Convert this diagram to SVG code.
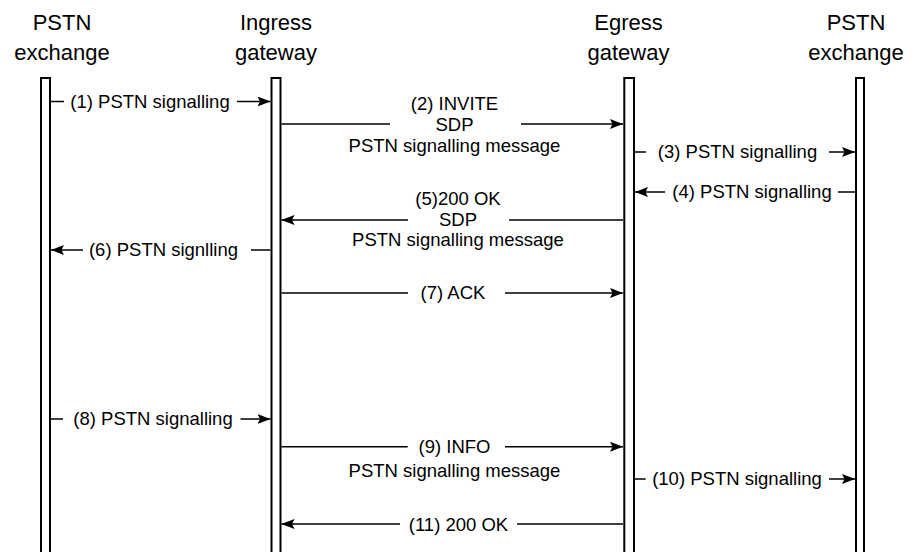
<svg xmlns="http://www.w3.org/2000/svg" width="917" height="552" viewBox="0 0 917 552">
<style>
.hdr{font-family:"Liberation Sans",Arial,sans-serif;font-size:22px;fill:#000;text-anchor:middle}
.lbl{font-family:"Liberation Sans",Arial,sans-serif;font-size:18.5px;fill:#000;text-anchor:middle}
.bar{fill:#fff;stroke:#000;stroke-width:2}
.msg{stroke:#000;stroke-width:1.5;fill:none}
</style>
<defs>
<marker id="ah" viewBox="0 0 13 10" refX="13" refY="5" markerWidth="13" markerHeight="10" markerUnits="userSpaceOnUse" orient="auto">
<path d="M0,0 L13,5 L0,10 L2.5,5 z" fill="#000"/>
</marker>
</defs>
<rect width="917" height="552" fill="#fff"/>
<g id="pstn-left">
<text class="hdr" x="62" y="30">PSTN</text>
<text class="hdr" x="62" y="59.5">exchange</text>
<path class="bar" d="M41,553 V78 H50 V553"/>
</g>
<g id="ingress">
<text class="hdr" x="276" y="30">Ingress</text>
<text class="hdr" x="276" y="59.5">gateway</text>
<path class="bar" d="M271.5,553 V78 H280.5 V553"/>
</g>
<g id="egress">
<text class="hdr" x="628.5" y="30">Egress</text>
<text class="hdr" x="628.5" y="59.5">gateway</text>
<path class="bar" d="M624.3,553 V78 H634 V553"/>
</g>
<g id="pstn-right">
<text class="hdr" x="856" y="30">PSTN</text>
<text class="hdr" x="856" y="59.5">exchange</text>
<path class="bar" d="M856,553 V78 H864 V553"/>
</g>
<g id="connectors">
<!-- (1) -->
<line class="msg" x1="51" y1="101.5" x2="64" y2="101.5"/>
<line class="msg" x1="237" y1="101.5" x2="270.5" y2="101.5" marker-end="url(#ah)"/>
<text class="lbl" x="150" y="107.5">(1) PSTN signalling</text>
<!-- (2) -->
<line class="msg" x1="281.5" y1="124" x2="390" y2="124"/>
<line class="msg" x1="521" y1="124" x2="623" y2="124" marker-end="url(#ah)"/>
<text class="lbl" x="454.5" y="110">(2) INVITE</text>
<text class="lbl" x="454.5" y="130.5">SDP</text>
<text class="lbl" x="454.5" y="151.5">PSTN signalling message</text>
<!-- (3) -->
<line class="msg" x1="635" y1="152" x2="646" y2="152"/>
<line class="msg" x1="829" y1="152" x2="855" y2="152" marker-end="url(#ah)"/>
<text class="lbl" x="737.5" y="158">(3) PSTN signalling</text>
<!-- (4) -->
<line class="msg" x1="665" y1="192" x2="635" y2="192" marker-end="url(#ah)"/>
<line class="msg" x1="838" y1="192" x2="855" y2="192"/>
<text class="lbl" x="752" y="198">(4) PSTN signalling</text>
<!-- (5) -->
<line class="msg" x1="408" y1="220" x2="281.5" y2="220" marker-end="url(#ah)"/>
<line class="msg" x1="509" y1="220" x2="623" y2="220"/>
<text class="lbl" x="458" y="205">(5)200 OK</text>
<text class="lbl" x="458" y="225.7">SDP</text>
<text class="lbl" x="458" y="245.7">PSTN signalling message</text>
<!-- (6) -->
<line class="msg" x1="83" y1="250" x2="51" y2="250" marker-end="url(#ah)"/>
<line class="msg" x1="251" y1="250" x2="270.5" y2="250"/>
<text class="lbl" x="163.5" y="256">(6) PSTN signlling</text>
<!-- (7) -->
<line class="msg" x1="281.5" y1="293" x2="408" y2="293"/>
<line class="msg" x1="505" y1="293" x2="623" y2="293" marker-end="url(#ah)"/>
<text class="lbl" x="453" y="299">(7) ACK</text>
<!-- (8) -->
<line class="msg" x1="51" y1="419" x2="63" y2="419"/>
<line class="msg" x1="240.5" y1="419" x2="270.5" y2="419" marker-end="url(#ah)"/>
<text class="lbl" x="153" y="425">(8) PSTN signalling</text>
<!-- (9) -->
<line class="msg" x1="281.5" y1="446.7" x2="407.7" y2="446.7"/>
<line class="msg" x1="505" y1="446.7" x2="623" y2="446.7" marker-end="url(#ah)"/>
<text class="lbl" x="454.5" y="452.7">(9) INFO</text>
<text class="lbl" x="454.5" y="476.7">PSTN signalling message</text>
<!-- (10) -->
<line class="msg" x1="635" y1="479" x2="645.7" y2="479"/>
<line class="msg" x1="829" y1="479" x2="855" y2="479" marker-end="url(#ah)"/>
<text class="lbl" x="737" y="485">(10) PSTN signalling</text>
<!-- (11) -->
<line class="msg" x1="400" y1="524" x2="281.5" y2="524" marker-end="url(#ah)"/>
<line class="msg" x1="517" y1="524" x2="623" y2="524"/>
<text class="lbl" x="458.5" y="530.5">(11) 200 OK</text>
</g>
</svg>
